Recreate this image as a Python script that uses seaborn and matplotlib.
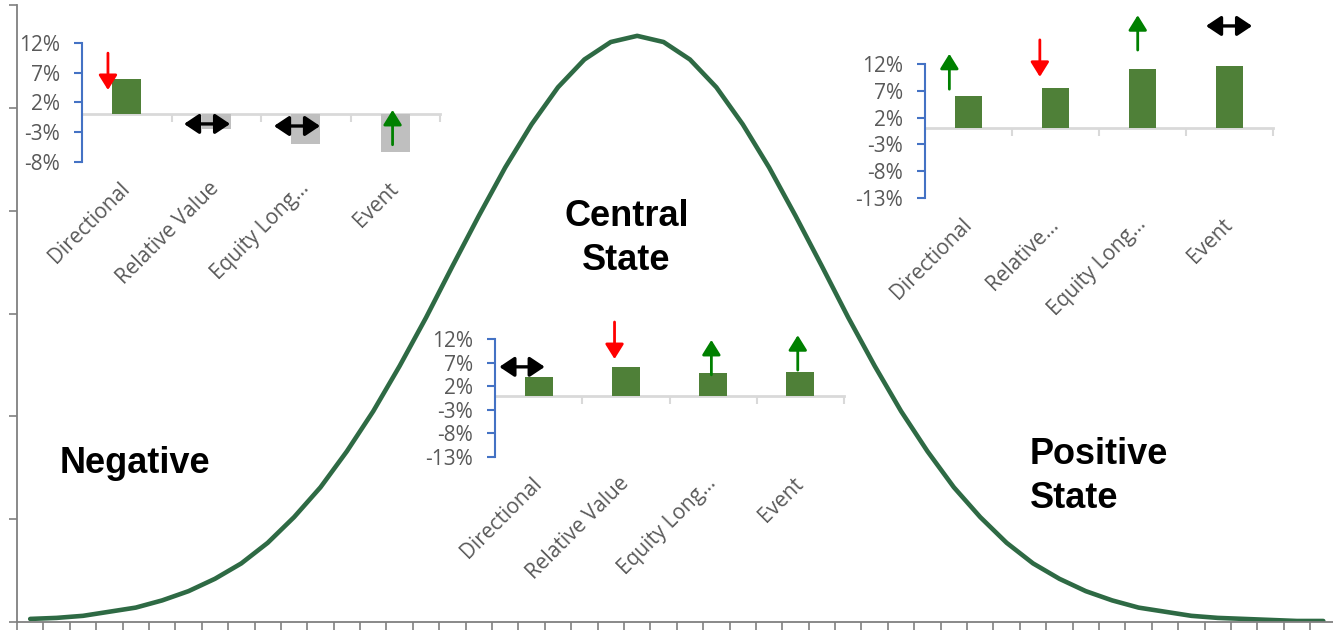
import numpy as np
import matplotlib
matplotlib.use("Agg")
import matplotlib.pyplot as plt
from matplotlib.ticker import PercentFormatter
import seaborn as sns

sns.set_style("white")
plt.rcParams["font.family"] = ["Open Sans", "DejaVu Sans"]
plt.rcParams["axes.unicode_minus"] = False

## Data
## ====

# bell curve, one value per category (density)
curve_y = [0.0003, 0.0004, 0.0006, 0.0010, 0.0014, 0.0021, 0.0030, 0.0042, 0.0057, 0.0077,
           0.0102, 0.0131, 0.0166, 0.0205, 0.0249, 0.0296, 0.0346, 0.0395, 0.0442, 0.0484,
           0.0520, 0.0547, 0.0564, 0.0570, 0.0564, 0.0547, 0.0520, 0.0484, 0.0442, 0.0395,
           0.0346, 0.0296, 0.0249, 0.0205, 0.0166, 0.0131, 0.0102, 0.0077, 0.0057, 0.0042,
           0.0030, 0.0021, 0.0014, 0.0010, 0.0006, 0.0004, 0.0003, 0.0002, 0.0001, 0.0001]

cats_full = ["Directional", "Relative Value", "Equity Long\u2026", "Event"]
cats_short = ["Directional", "Relative\u2026", "Equity Long\u2026", "Event"]

neg_vals = [0.060, -0.024, -0.050, -0.063]
central_vals = [0.040, 0.060, 0.049, 0.051]
pos_vals = [0.060, 0.075, 0.111, 0.117]

neg_signal = ["down", "flat", "flat", "up"]
central_signal = ["flat", "down", "up", "up"]
pos_signal = ["up", "down", "up", "flat"]

ticks_neg = [-0.08, -0.03, 0.02, 0.07, 0.12]
ticks_other = [-0.13, -0.08, -0.03, 0.02, 0.07, 0.12]

## Style
## =====
GREEN_LINE = "#2E6A44"
GREEN_BAR = "#4F8038"
GREY_BAR = "#BFBFBF"
BLUE = "#4472C4"
AXIS_GREY = "#808080"
LIGHT = "#D9D9D9"
TXT = "#595959"
ARROW_COL = {"up": "#008000", "down": "#FF0000", "flat": "black"}
LABEL_SIZE = 15

W, H = 1333, 631
fig = plt.figure(figsize=(W / 100, H / 100), dpi=100)


def frac(left, top, right, bottom):
    return [left / W, 1 - bottom / H, (right - left) / W, (bottom - top) / H]


### Main bell curve
### ===============
ax = fig.add_axes(frac(17, 5, 1336.5, 622))
sns.lineplot(x=np.arange(len(curve_y)), y=curve_y, color=GREEN_LINE, lw=3.3, ax=ax)
ax.lines[0].set_solid_capstyle("round")
ax.set_xlim(-0.5, len(curve_y) - 0.5)
ax.set_ylim(0, 0.06)
ax.set_xticks(np.arange(-0.5, len(curve_y), 1))
ax.set_yticks(np.arange(0, 0.0601, 0.01))
ax.set_xticklabels([])
ax.set_yticklabels([])
ax.tick_params(bottom=True, left=True, direction="out", length=6, width=1.2, color=AXIS_GREY)
for s in ["top", "right"]:
    ax.spines[s].set_visible(False)
for s in ["left", "bottom"]:
    ax.spines[s].set_color(AXIS_GREY)
    ax.spines[s].set_linewidth(1.3)
ax.set_xlabel("")
ax.set_ylabel("")


### Inset bar charts
### ================
def inset(box, vals, cats, signals, yticks, arrows):
    a = fig.add_axes(frac(*box))
    a.set_facecolor("none")
    pos = np.arange(len(vals))
    cols = [GREEN_BAR if v >= 0 else GREY_BAR for v in vals]
    sns.barplot(x=pos, y=vals, hue=pos, palette=cols, native_scale=True, width=0.32,
                saturation=1, linewidth=0, legend=False, ax=a, zorder=3)
    a.set_xlim(-0.5, 3.5)
    a.set_ylim(yticks[0], yticks[-1])
    a.set_yticks(yticks)
    a.yaxis.set_major_formatter(PercentFormatter(1.0, decimals=0))
    a.tick_params(axis="y", left=True, direction="out", length=6, width=1.5, color=BLUE,
                  labelcolor=TXT, labelsize=LABEL_SIZE, pad=10)
    for s in ["top", "right"]:
        a.spines[s].set_visible(False)
    a.spines["left"].set_color(BLUE)
    a.spines["left"].set_linewidth(1.5)
    a.spines["bottom"].set_position(("data", 0))
    a.spines["bottom"].set_color(LIGHT)
    a.spines["bottom"].set_linewidth(2)
    a.spines["bottom"].set_zorder(2)
    a.set_xticks(np.arange(-0.5, 4, 1))
    a.set_xticklabels([])
    a.tick_params(axis="x", bottom=True, direction="out", length=6, width=1.5, color=LIGHT)
    a.set_xlabel("")
    a.set_ylabel("")

    sec = a.secondary_xaxis("bottom")
    sec.set_xticks(pos, labels=cats)
    sec.tick_params(bottom=True, length=0, pad=17, labelsize=LABEL_SIZE, labelcolor=TXT)
    sec.spines["bottom"].set_visible(False)
    for t in sec.get_xticklabels():
        t.set_rotation(45)
        t.set_ha("right")
        t.set_va("center")
        t.set_rotation_mode("anchor")

    # signal arrows
    for i, (sig, geo) in enumerate(zip(signals, arrows)):
        if sig == "flat":
            x0, x1, y = i + geo[0], i + geo[1], geo[2]
            a.annotate("", xy=(x1, y), xytext=(x0, y), annotation_clip=False,
                       arrowprops=dict(arrowstyle="<|-|>,head_length=0.45,head_width=0.3",
                                       mutation_scale=20, lw=2.4, color="black",
                                       shrinkA=0, shrinkB=0), zorder=5)
        else:
            x, y0, y1 = i + geo[0], geo[1], geo[2]
            a.annotate("", xy=(x, y1), xytext=(x, y0), annotation_clip=False,
                       arrowprops=dict(arrowstyle="-|>,head_length=0.45,head_width=0.28",
                                       mutation_scale=20, lw=2.0, color=ARROW_COL[sig],
                                       shrinkA=0, shrinkB=0), zorder=5)
    return a


inset((82, 43, 440, 162), neg_vals, cats_full, neg_signal, ticks_neg,
      [(-0.21, 0.103, 0.041), (-0.36, 0.155, -0.016), (-0.355, 0.16, -0.0195),
       (-0.03, -0.051, 0.0075)])
inset((925, 64, 1273, 198), pos_vals, cats_short, pos_signal, ticks_other,
      [(-0.22, 0.073, 0.139), (-0.18, 0.165, 0.096), (-0.055, 0.146, 0.211),
       (-0.27, 0.26, 0.191)])
inset((495, 339, 844, 457), central_vals, cats_full, central_signal, ticks_other,
      [(-0.45, 0.07, 0.061), (-0.13, 0.156, 0.0775), (-0.02, 0.044, 0.118),
       (-0.03, 0.054, 0.128)])

### State labels
### ============
bold = dict(family=["Liberation Sans", "DejaVu Sans"], fontweight="bold", fontsize=26,
            color="black", va="baseline")
fig.text(60 / W, 1 - 473 / H, "Negative", ha="left", **bold)
fig.text(626.5 / W, 1 - 225.5 / H, "Central", ha="center", **bold)
fig.text(626.5 / W, 1 - 270.5 / H, "State", ha="center", **bold)
fig.text(1030 / W, 1 - 463.5 / H, "Positive", ha="left", **bold)
fig.text(1030 / W, 1 - 508.5 / H, "State", ha="left", **bold)

fig.savefig("out.png", dpi=100)
